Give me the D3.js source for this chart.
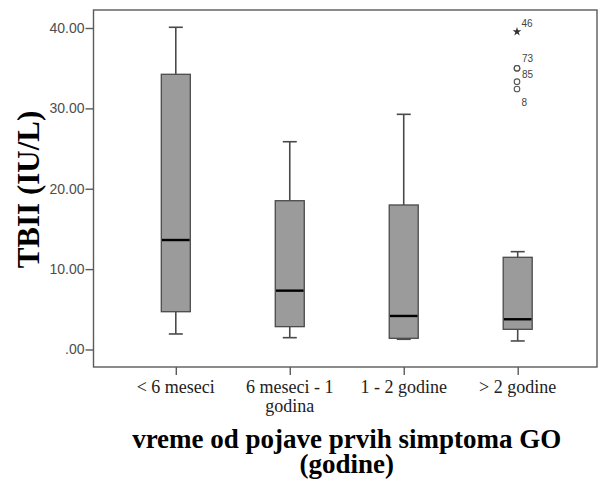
<!DOCTYPE html>
<html>
<head>
<meta charset="utf-8">
<script src="https://cdn.jsdelivr.net/npm/d3@7"></script>
<style>
  html, body { margin: 0; padding: 0; background: #fff; }
  svg { display: block; }
</style>
</head>
<body>
<svg id="chart" width="600" height="486"></svg>
<script>
// ---- data ----
const categories = ["< 6 meseci", "6 meseci - 1|godina", "1 - 2 godine", "> 2 godine"];
const whiskerLow  = [1.93, 1.47, 1.27, 1.06];
const q1          = [4.70, 2.84, 1.39, 2.51];
const medians     = [13.62, 7.32, 4.17, 3.76];
const q3          = [34.24, 18.51, 17.98, 11.47];
const whiskerHigh = [40.09, 25.85, 29.26, 12.17];
const yTicks      = [0, 10, 20, 30, 40];
const yTickLabels = [".00", "10.00", "20.00", "30.00", "40.00"];
// outliers of the last group
const outlierCategory = "> 2 godine";
const outlierValues   = [39.54, 34.99, 34.99, 33.32, 32.41];
const outlierLabels   = ["46", "73", "85", "", "8"];
const outlierKinds    = ["extreme", "outlier", "outlier", "outlier", "outlier"];
const yTitle = "TBII (IU/L)";
const xTitleLines = ["vreme od pojave prvih simptoma GO", "(godine)"];

// ---- layout ----
const plot = { left: 93.5, right: 597, top: 10, bottom: 367 };
const svg = d3.select("#chart");

const x = d3.scalePoint()
  .domain(categories)
  .range([plot.left + 82.3, plot.right - 79.3]);

const y = d3.scaleLinear()
  .domain([-2.18, 42.24])
  .range([plot.bottom, plot.top]);

const boxW = 29, capW = 14;
const strokeCol = "#4a4a4a";

// frame
svg.append("rect")
  .attr("x", plot.left).attr("y", plot.top)
  .attr("width", plot.right - plot.left).attr("height", plot.bottom - plot.top)
  .attr("fill", "none").attr("stroke", "#5a5a5a").attr("stroke-width", 1.4);

// y axis
const yAxis = d3.axisLeft(y)
  .tickValues(yTicks)
  .tickSize(8)
  .tickPadding(1)
  .tickFormat((d, i) => yTickLabels[i]);
const gy = svg.append("g").attr("transform", `translate(${plot.left},0)`).call(yAxis);
gy.select(".domain").remove();
gy.selectAll(".tick line").attr("stroke", "#5a5a5a").attr("stroke-width", 1.4);
gy.selectAll(".tick text")
  .attr("font-family", "Liberation Sans, Arial, sans-serif")
  .attr("font-size", 14).attr("fill", "#4d4d4d");

// x axis
const xAxis = d3.axisBottom(x).tickSize(8).tickFormat("");
const gx = svg.append("g").attr("transform", `translate(0,${plot.bottom})`).call(xAxis);
gx.select(".domain").remove();
gx.selectAll(".tick line").attr("stroke", "#5a5a5a").attr("stroke-width", 1.4);

// x tick labels (multi-line)
const xl = svg.append("g").selectAll("text").data(categories).join("text")
  .attr("x", d => x(d)).attr("y", 393)
  .attr("text-anchor", "middle")
  .attr("font-family", "Liberation Serif, 'Times New Roman', serif")
  .attr("font-size", 18).attr("fill", "#222");
xl.each(function(d) {
  const lines = d.split("|");
  d3.select(this).selectAll("tspan").data(lines).join("tspan")
    .attr("x", x(d)).attr("dy", (l, i) => i === 0 ? 0 : 18.5)
    .text(l => l);
});

// boxes
const groups = categories.map((c, i) => ({
  c, lo: whiskerLow[i], q1: q1[i], med: medians[i], q3: q3[i], hi: whiskerHigh[i]
}));
const g = svg.append("g").selectAll("g").data(groups).join("g");

// whiskers
g.append("line")
  .attr("x1", d => x(d.c)).attr("x2", d => x(d.c))
  .attr("y1", d => y(d.q3)).attr("y2", d => y(d.hi))
  .attr("stroke", strokeCol).attr("stroke-width", 1.6);
g.append("line")
  .attr("x1", d => x(d.c)).attr("x2", d => x(d.c))
  .attr("y1", d => y(d.q1)).attr("y2", d => y(d.lo))
  .attr("stroke", strokeCol).attr("stroke-width", 1.6);
// caps
g.append("line")
  .attr("x1", d => x(d.c) - capW / 2).attr("x2", d => x(d.c) + capW / 2)
  .attr("y1", d => y(d.hi)).attr("y2", d => y(d.hi))
  .attr("stroke", strokeCol).attr("stroke-width", 1.6);
g.append("line")
  .attr("x1", d => x(d.c) - capW / 2).attr("x2", d => x(d.c) + capW / 2)
  .attr("y1", d => y(d.lo)).attr("y2", d => y(d.lo))
  .attr("stroke", strokeCol).attr("stroke-width", 1.6);
// box
g.append("rect")
  .attr("x", d => x(d.c) - boxW / 2).attr("width", boxW)
  .attr("y", d => y(d.q3)).attr("height", d => y(d.q1) - y(d.q3))
  .attr("fill", "#9b9b9b").attr("stroke", strokeCol).attr("stroke-width", 1.3);
// median
g.append("line")
  .attr("x1", d => x(d.c) - boxW / 2 + 0.7).attr("x2", d => x(d.c) + boxW / 2 - 0.7)
  .attr("y1", d => y(d.med)).attr("y2", d => y(d.med))
  .attr("stroke", "#000").attr("stroke-width", 2.4);

// outliers
const outliers = outlierValues.map((v, i) => ({ v, label: outlierLabels[i], kind: outlierKinds[i] }));
const ox = x(outlierCategory) - 0.7;
const og = svg.append("g");
og.selectAll("circle").data(outliers.filter(d => d.kind === "outlier")).join("circle")
  .attr("cx", ox).attr("cy", d => y(d.v)).attr("r", 2.8)
  .attr("fill", "none").attr("stroke", "#555").attr("stroke-width", 1.1);
og.selectAll("path").data(outliers.filter(d => d.kind === "extreme")).join("path")
  .attr("d", d3.symbol().type(d3.symbolStar).size(24))
  .attr("transform", d => `translate(${ox},${y(d.v)})`)
  .attr("fill", "#333");
// label offsets (layout only)
const labelOffsets = { "46": [4.5, -5], "73": [5, -6], "85": [5, 9.5], "8": [4.5, 16.5] };
og.selectAll("text").data(outliers.filter(d => d.label)).join("text")
  .attr("x", d => ox + labelOffsets[d.label][0])
  .attr("y", d => y(d.v) + labelOffsets[d.label][1])
  .attr("font-family", "Liberation Sans, Arial, sans-serif")
  .attr("font-size", 10).attr("fill", "#444")
  .text(d => d.label);

// axis titles
svg.append("text")
  .attr("transform", `translate(39,${(plot.top + plot.bottom) / 2 + 1}) rotate(-90)`)
  .attr("text-anchor", "middle")
  .attr("font-family", "Liberation Serif, 'Times New Roman', serif")
  .attr("font-weight", "bold").attr("font-size", 31).attr("fill", "#000")
  .text(yTitle);

svg.append("text")
  .attr("text-anchor", "middle")
  .attr("font-family", "Liberation Serif, 'Times New Roman', serif")
  .attr("font-weight", "bold").attr("font-size", 27).attr("fill", "#000")
  .selectAll("tspan").data(xTitleLines).join("tspan")
  .attr("x", (plot.left + plot.right) / 2 + 1.5)
  .attr("y", (d, i) => 448.3 + i * 25)
  .text(d => d);
</script>
</body>
</html>
